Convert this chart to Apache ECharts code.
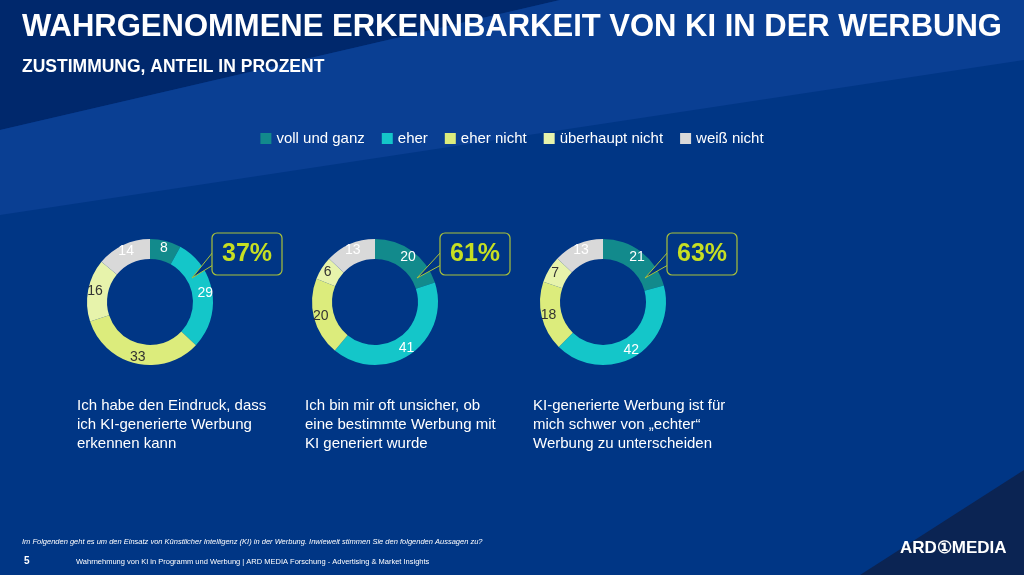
<!DOCTYPE html>
<html><head><meta charset="utf-8">
<script src="https://cdn.jsdelivr.net/npm/echarts@6/dist/echarts.min.js"></script>
<style>html,body{margin:0;padding:0;background:#003685;}#c{width:1024px;height:575px;}</style>
</head><body><div id="c"></div>
<script>
var categories = ['voll und ganz', 'eher', 'eher nicht', 'überhaupt nicht', 'weiß nicht'];
var colors = ['#128a8c', '#14c6c9', '#dcec7c', '#e7f3ab', '#d9d9d9'];
var labelColors = ['#fff', '#fff', '#333', '#333', '#fff'];
var values1 = [8, 29, 33, 16, 14];
var values2 = [20, 41, 20, 6, 13];
var values3 = [21, 42, 18, 7, 13];
var totals = ['37%', '61%', '63%'];
var statements = [
  'Ich habe den Eindruck, dass\nich KI-generierte Werbung\nerkennen kann',
  'Ich bin mir oft unsicher, ob\neine bestimmte Werbung mit\nKI generiert wurde',
  'KI-generierte Werbung ist für\nmich schwer von „echter“\nWerbung zu unterscheiden'
];
var allValues = [values1, values2, values3];
var centersX = [150, 375, 603];
var textX = [77, 305, 533];
var boxX = [212, 440, 667];

var series = allValues.map(function (vals, i) {
  return {
    type: 'pie', radius: [43, 63], center: [centersX[i], 302],
    startAngle: 90, clockwise: true, silent: true,
    label: { show: true, position: 'inside', fontSize: 14, fontFamily: 'Arial, Liberation Sans',
      formatter: function (p) { return p.value; } },
    labelLine: { show: false },
    itemStyle: { borderWidth: 0 },
    data: vals.map(function (v, k) {
      return { name: categories[k], value: v,
        itemStyle: { color: colors[k] }, label: { color: labelColors[k] } };
    })
  };
});

var graphic = [
  { type: 'polygon', silent: true, shape: { points: [[0, 0], [560, 0], [0, 130]] }, style: { fill: '#00286c' } },
  { type: 'polygon', silent: true, shape: { points: [[560, 0], [1024, 0], [1024, 60], [0, 215], [0, 130]] }, style: { fill: '#0a3f93' } },
  { type: 'polygon', silent: true, shape: { points: [[1024, 470], [1024, 575], [860, 575]] }, style: { fill: '#0b2453' } },
  { type: 'text', left: 22, top: 12, style: { text: 'WAHRGENOMMENE ERKENNBARKEIT VON KI IN DER WERBUNG', fill: '#fff', font: 'bold 31px Arial, Liberation Sans' } },
  { type: 'text', left: 22, top: 58, style: { text: 'ZUSTIMMUNG, ANTEIL IN PROZENT', fill: '#fff', font: 'bold 17.5px Arial, Liberation Sans' } },
  { type: 'text', left: 22, top: 538, style: { text: 'Im Folgenden geht es um den Einsatz von Künstlicher Intelligenz (KI) in der Werbung. Inwieweit stimmen Sie den folgenden Aussagen zu?', fill: '#fff', font: 'italic 7.5px Arial, Liberation Sans' } },
  { type: 'text', left: 24, top: 556, style: { text: '5', fill: '#fff', font: 'bold 10px Arial, Liberation Sans' } },
  { type: 'text', left: 76, top: 558, style: { text: 'Wahrnehmung von KI in Programm und Werbung | ARD MEDIA Forschung - Advertising & Market Insights', fill: '#fff', font: '7.5px Arial, Liberation Sans' } },
  { type: 'text', left: 900, top: 540, style: { text: 'ARD\u2460MEDIA', fill: '#fff', font: 'bold 17px Arial, Liberation Sans' } }
];
for (var i = 0; i < 3; i++) {
  graphic.push({ type: 'rect', shape: { x: boxX[i], y: 233, width: 70, height: 42, r: 5 },
    style: { fill: '#003685', stroke: '#a9c23a', lineWidth: 1.2 }, z: 10 });
  graphic.push({ type: 'polygon', shape: { points: [[boxX[i] + 1, 252], [centersX[i] + 42, 278], [boxX[i] + 1, 265]] },
    style: { fill: '#003685', stroke: '#a9c23a', lineWidth: 1 }, z: 9 });
  graphic.push({ type: 'text', x: boxX[i] + 35, y: 254, z: 11,
    style: { text: totals[i], fill: '#c6df22', font: 'bold 25px Arial, Liberation Sans', align: 'center', verticalAlign: 'middle' } });
  graphic.push({ type: 'text', x: textX[i], y: 396,
    style: { text: statements[i], fill: '#fff', font: '15px Arial, Liberation Sans', lineHeight: 19 } });
}

var chart = echarts.init(document.getElementById('c'));
chart.setOption({
  backgroundColor: '#003685',
  animation: false,
  legend: { top: 126, left: 'center', itemWidth: 11, itemHeight: 11, itemGap: 17, icon: 'rect',
    textStyle: { color: '#fff', fontSize: 15, fontFamily: 'Arial, Liberation Sans' },
    data: categories.map(function (c, k) { return { name: c, itemStyle: { color: colors[k] } }; }) },
  graphic: graphic,
  series: series
});
</script></body></html>
